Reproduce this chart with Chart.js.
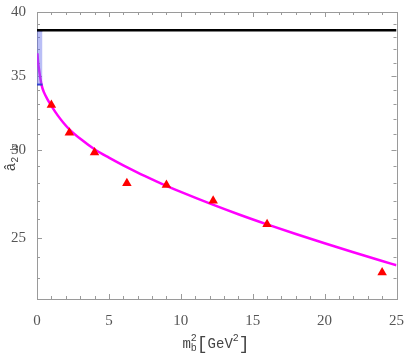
<!DOCTYPE html>
<html>
<head>
<meta charset="utf-8">
<script src="https://cdn.jsdelivr.net/npm/chart.js@4"></script>
<style>
  body { margin: 0; background: #fff; }
  canvas { display: block; }
</style>
</head>
<body>
<canvas id="chart" width="409" height="354"></canvas>
<script>
// lattice-like points (red triangles)
let pointX = [1, 2.25, 4, 6.25, 9, 12.25, 16, 24];
let pointY = [32.95, 31.1, 29.85, 28.0, 27.9, 27.0, 25.7, 23.25];

// magenta fit curve
let curveX = [0.03, 0.07, 0.14, 0.21, 0.32, 0.48, 0.7, 1.0, 1.44, 1.82, 2.25, 3.06, 4, 5, 6, 7, 8, 9, 10, 12, 14, 16, 18, 20, 22, 24, 25];
let curveY = [36.7, 36.1, 35.5, 35.0, 34.35, 33.85, 33.4, 32.9, 32.25, 31.78, 31.33, 30.68, 30.05, 29.53, 29.06, 28.63, 28.23, 27.85, 27.5, 26.85, 26.25, 25.7, 25.19, 24.71, 24.25, 23.81, 23.6];

// asymptotic value (black line) and band at m_b^2 -> 0
let asymptote = 38.5;
let bandLow = 34.4;
let bandHigh = 38.5;
let bandWidth = 0.38;

let xTicks = [0, 5, 10, 15, 20, 25];
let yTicks = [25, 30, 35, 40];

function toPoints(xs, ys) {
    return xs.map((x, i) => ({ x: x, y: ys[i] }));
}

// tick marks drawn inside the frame, like the original
const frameTicks = {
    id: 'frameTicks',
    beforeDatasetsDraw(chart) {
        let ctx = chart.ctx;
        let a = chart.chartArea;
        let xs = chart.scales.x;
        let ys = chart.scales.y;
        ctx.save();
        ctx.strokeStyle = '#9a9a9a';
        ctx.lineWidth = 1;
        ctx.beginPath();
        for (let v = 0; v <= 25; v++) {
            let px = Math.round(xs.getPixelForValue(v)) + 0.5;
            let len = v % 5 === 0 ? 5 : 3;
            ctx.moveTo(px, a.bottom); ctx.lineTo(px, a.bottom - len);
            ctx.moveTo(px, a.top); ctx.lineTo(px, a.top + len);
        }
        for (let v = 22; v <= 40; v++) {
            let py = Math.round(ys.getPixelForValue(v)) + 0.5;
            let len = v % 5 === 0 ? 5 : 3;
            ctx.moveTo(a.left, py); ctx.lineTo(a.left + len, py);
            ctx.moveTo(a.right, py); ctx.lineTo(a.right - len, py);
        }
        ctx.stroke();
        ctx.strokeRect(Math.round(a.left) + 0.5, Math.round(a.top) + 0.5,
            Math.round(a.right - a.left), Math.round(a.bottom - a.top));
        ctx.restore();
    },
    afterDraw(chart) {
        let ctx = chart.ctx;
        ctx.save();
        ctx.fillStyle = '#444';
        let big = '14px "Liberation Mono"';
        let small = '10px "Liberation Mono"';
        let bracket = '18px "Liberation Mono"';

        // x title: m_b^2 [GeV^2]
        let parts = [
            { t: 'm', f: big, dy: 0 },
            { t: 'b', f: small, dy: 3, sup: '2' },
            { t: '[', f: bracket, dy: 1 },
            { t: 'GeV', f: big, dy: 0 },
            { t: '2', f: small, dy: -7 },
            { t: ']', f: bracket, dy: 1 }
        ];
        let total = 0;
        parts.forEach(p => { ctx.font = p.f; p.w = ctx.measureText(p.t).width; total += p.w; });
        let x = 216 - total / 2;
        let base = 348;
        ctx.textBaseline = 'alphabetic';
        parts.forEach(p => {
            ctx.font = p.f;
            ctx.fillText(p.t, x, base + p.dy);
            if (p.sup) ctx.fillText(p.sup, x, base - 7);
            x += p.w;
        });

        // y title: a-hat with subscript 2 b
        ctx.translate(15, 158);
        ctx.rotate(-Math.PI / 2);
        ctx.font = big;
        let w1 = ctx.measureText('\u00e2').width;
        ctx.font = small;
        let w2 = ctx.measureText('2 b').width;
        let start = -(w1 + w2) / 2;
        ctx.font = big;
        ctx.fillText('\u00e2', start, 0);
        ctx.font = small;
        ctx.fillText('2 b', start + w1, 3);
        ctx.restore();
    }
};

new Chart(document.getElementById('chart'), {
    type: 'line',
    data: {
        datasets: [
            {
                data: toPoints(pointX, pointY),
                showLine: false,
                pointStyle: 'triangle',
                pointRadius: 5.5,
                pointBackgroundColor: '#ff0000',
                pointBorderWidth: 0
            },
            {
                data: [{ x: 0, y: asymptote }, { x: 25, y: asymptote }],
                borderColor: '#000',
                borderWidth: 2.5,
                pointRadius: 0
            },
            {
                data: [{ x: 0, y: bandHigh }, { x: bandWidth, y: bandHigh }],
                borderColor: '#2233cc',
                borderWidth: 2,
                pointRadius: 0,
                fill: 3,
                backgroundColor: 'rgba(100,110,235,0.45)'
            },
            {
                data: [{ x: 0, y: bandLow }, { x: bandWidth, y: bandLow }],
                borderColor: '#2233cc',
                borderWidth: 2,
                pointRadius: 0
            },
            {
                data: toPoints(curveX, curveY),
                borderColor: '#ff00ff',
                borderWidth: 2.5,
                pointRadius: 0,
                cubicInterpolationMode: 'monotone'
            }
        ]
    },
    options: {
        responsive: false,
        animation: false,
        devicePixelRatio: 1,
        layout: { padding: { top: 11, right: 8, left: 0, bottom: 0 } },
        plugins: { legend: { display: false }, tooltip: { enabled: false } },
        scales: {
            x: {
                type: 'linear',
                min: 0,
                max: 25,
                afterBuildTicks: s => { s.ticks = xTicks.map(v => ({ value: v })); },
                ticks: {
                    maxRotation: 0,
                    padding: 5,
                    color: '#555',
                    font: { family: '"Liberation Serif"', size: 15 }
                },
                grid: { display: false },
                border: { display: false },
                afterFit: s => { s.height = 55; }
            },
            y: {
                type: 'logarithmic',
                min: 22,
                max: 40,
                afterBuildTicks: s => { s.ticks = yTicks.map(v => ({ value: v })); },
                ticks: {
                    padding: 3,
                    color: '#555',
                    font: { family: '"Liberation Serif"', size: 15 },
                    callback: v => String(v)
                },
                grid: { display: false },
                border: { display: false },
                afterFit: s => { s.width = 37; }
            }
        }
    },
    plugins: [frameTicks]
});
</script>
</body>
</html>
